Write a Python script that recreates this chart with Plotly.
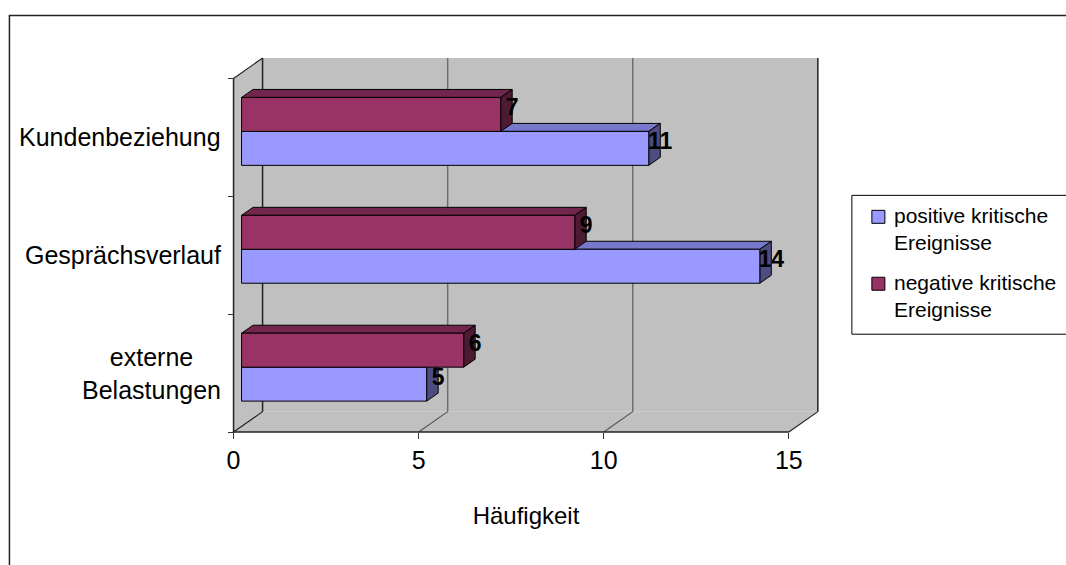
import plotly.graph_objects as go

# ---- data -------------------------------------------------------------
categories = ["externe<br>Belastungen", "Gesprächsverlauf", "Kundenbeziehung"]
positive = [5, 14, 11]
negative = [6, 9, 7]
series_names = ["positive kritische<br>Ereignisse", "negative kritische<br>Ereignisse"]
x_ticks = [0, 5, 10, 15]
x_title = "Häufigkeit"

# ---- pseudo-3D geometry ----------------------------------------------
W, H = 1066, 565
PX_X = 37.0            # pixels per unit on the value axis
PX_Y = 118.0           # pixels per category band
X_MIN, X_MAX = -0.15, 15.95
Y_MIN, Y_MAX = -0.05, 3.25
ORIGIN = (234.0, 432.0)  # pixel position of value 0 / bottom of first band

WALL_DX, WALL_DY = 29 / PX_X, 20.5 / PX_Y   # depth of floor / side wall
BAR_BASE = 8 / PX_X                          # bars start slightly inside the box
BAR_H = 34 / PX_Y
BAR_DX, BAR_DY = 11.5 / PX_X, 8 / PX_Y       # bar extrusion
NEG_OFF, POS_OFF = 0.695, 0.407              # bar centres inside each band
LABEL_DY = 5 / PX_Y

L = ORIGIN[0] - (0 - X_MIN) * PX_X
PW = (X_MAX - X_MIN) * PX_X
R = W - L - PW
T = ORIGIN[1] - Y_MAX * PX_Y
PH = (Y_MAX - Y_MIN) * PX_Y
B = H - T - PH


def paper_x(px):
    return (px - L) / PW


def paper_y(py):
    return (T + PH - py) / PH


FONT = "Arial, 'Liberation Sans', sans-serif"
GRAY = "#C0C0C0"
POS = dict(front="#9999FF", top="#7878CC", side="#4C4C80")
NEG = dict(front="#993366", top="#73264D", side="#4D1A33")

n_cat = len(categories)
xmax_tick = x_ticks[-1]

fig = go.Figure()


def poly(xs, ys, fill, line="black", width=1):
    fig.add_trace(go.Scatter(x=xs, y=ys, mode="lines", fill="toself",
                             fillcolor=fill, line=dict(color=line, width=width),
                             hoverinfo="skip", showlegend=False))


def line(xs, ys, color="black", width=1):
    fig.add_trace(go.Scatter(x=xs, y=ys, mode="lines",
                             line=dict(color=color, width=width),
                             hoverinfo="skip", showlegend=False))


# walls and floor
top = n_cat
poly([WALL_DX, xmax_tick + WALL_DX, xmax_tick + WALL_DX, WALL_DX],
     [WALL_DY, WALL_DY, top + WALL_DY, top + WALL_DY], GRAY, GRAY, 0)
poly([0, WALL_DX, WALL_DX, 0], [0, WALL_DY, top + WALL_DY, top], GRAY, GRAY, 0)
poly([0, xmax_tick, xmax_tick + WALL_DX, WALL_DX], [0, 0, WALL_DY, WALL_DY], GRAY, GRAY, 0)

# grid lines on the back wall and floor
for t in x_ticks[1:-1]:
    line([t + WALL_DX, t + WALL_DX], [WALL_DY, top + WALL_DY], "#6E6E6E", 1.5)
    line([t, t + WALL_DX], [0, WALL_DY], "#555555", 1.2)

# box edges
line([WALL_DX, WALL_DX], [WALL_DY, top + WALL_DY], "#222222", 1.5)
line([xmax_tick + WALL_DX, xmax_tick + WALL_DX], [WALL_DY, top + WALL_DY], "#222222", 1.5)
line([0, WALL_DX], [top, top + WALL_DY], "#222222", 1.2)
line([0, WALL_DX], [0, WALL_DY], "#222222", 1.2)
line([xmax_tick, xmax_tick + WALL_DX], [0, WALL_DY], "#222222", 1.2)
line([0, xmax_tick], [0, 0], "#222222", 1.5)
line([0, 0], [0, top], "#222222", 1.5)


def bar_faces(values, offset, colors):
    tops_x, tops_y, sides_x, sides_y, fronts_x, fronts_y = [], [], [], [], [], []
    for i, v in enumerate(values):
        c = i + offset
        y0, y1 = c - BAR_H / 2, c + BAR_H / 2
        x0, x1 = BAR_BASE, BAR_BASE + v
        tops_x += [x0, x1, x1 + BAR_DX, x0 + BAR_DX, x0, None]
        tops_y += [y1, y1, y1 + BAR_DY, y1 + BAR_DY, y1, None]
        sides_x += [x1, x1, x1 + BAR_DX, x1 + BAR_DX, x1, None]
        sides_y += [y0, y1, y1 + BAR_DY, y0 + BAR_DY, y0, None]
        fronts_x += [x0, x1, x1, x0, x0, None]
        fronts_y += [y0, y0, y1, y1, y0, None]
    poly(tops_x, tops_y, colors["top"])
    poly(sides_x, sides_y, colors["side"])
    poly(fronts_x, fronts_y, colors["front"])


bar_faces(positive, POS_OFF, POS)
bar_faces(negative, NEG_OFF, NEG)

# value labels at the back edge of each bar end
for values, offset in ((positive, POS_OFF), (negative, NEG_OFF)):
    fig.add_trace(go.Scatter(
        x=[BAR_BASE + v + BAR_DX for v in values],
        y=[i + offset + LABEL_DY for i in range(n_cat)],
        text=[str(v) for v in values], mode="text", textposition="middle center",
        textfont=dict(family=FONT, size=23, color="black", weight="bold"),
        cliponaxis=False, hoverinfo="skip", showlegend=False))

# category labels
annotations = []
for i, cat in enumerate(categories):
    annotations.append(dict(x=0, y=i + 0.5, xref="x", yref="y", text=cat,
                            showarrow=False, xanchor="right", yanchor="middle",
                            xshift=-11, align="center",
                            font=dict(family=FONT, size=25, color="black")))

# legend
shapes = [
    dict(type="rect", xref="paper", yref="paper",
         x0=paper_x(10), x1=paper_x(1075), y0=paper_y(15), y1=paper_y(575),
         line=dict(color="#222222", width=1.5), fillcolor="rgba(0,0,0,0)", layer="below"),
    dict(type="rect", xref="paper", yref="paper",
         x0=paper_x(852), x1=paper_x(1075), y0=paper_y(195), y1=paper_y(334),
         line=dict(color="black", width=1), fillcolor="white"),
]
for k, (name, col) in enumerate(zip(series_names, (POS["front"], NEG["front"]))):
    sq_top = 210 + k * 67
    shapes.append(dict(type="rect", xref="paper", yref="paper",
                       x0=paper_x(872), x1=paper_x(885),
                       y0=paper_y(sq_top), y1=paper_y(sq_top + 13),
                       line=dict(color="black", width=1), fillcolor=col))
    annotations.append(dict(x=paper_x(892), y=paper_y(sq_top - 8), xref="paper", yref="paper",
                            text=name, showarrow=False, xanchor="left", yanchor="top",
                            align="left", font=dict(family=FONT, size=21, color="black")))

fig.update_layout(
    width=W, height=H,
    margin=dict(l=L, r=R, t=T, b=B, autoexpand=False),
    paper_bgcolor="white", plot_bgcolor="white",
    showlegend=False,
    shapes=shapes, annotations=annotations,
    xaxis=dict(range=[X_MIN, X_MAX], anchor="free",
               position=(0 - Y_MIN) / (Y_MAX - Y_MIN),
               tickvals=x_ticks, ticktext=[str(t) for t in x_ticks],
               ticks="outside", ticklen=6, tickcolor="#333333", tickwidth=1,
               tickfont=dict(family=FONT, size=25, color="black"),
               showgrid=False, zeroline=False, showline=False, fixedrange=True,
               title=dict(text=x_title, standoff=34,
                          font=dict(family=FONT, size=24, color="black"))),
    yaxis=dict(range=[Y_MIN, Y_MAX], anchor="free",
               position=(0 - X_MIN) / (X_MAX - X_MIN),
               tickvals=list(range(n_cat + 1)), showticklabels=False,
               ticks="outside", ticklen=6, tickcolor="#333333", tickwidth=1,
               showgrid=False, zeroline=False, showline=False, fixedrange=True),
)

fig.write_html("out.html")
